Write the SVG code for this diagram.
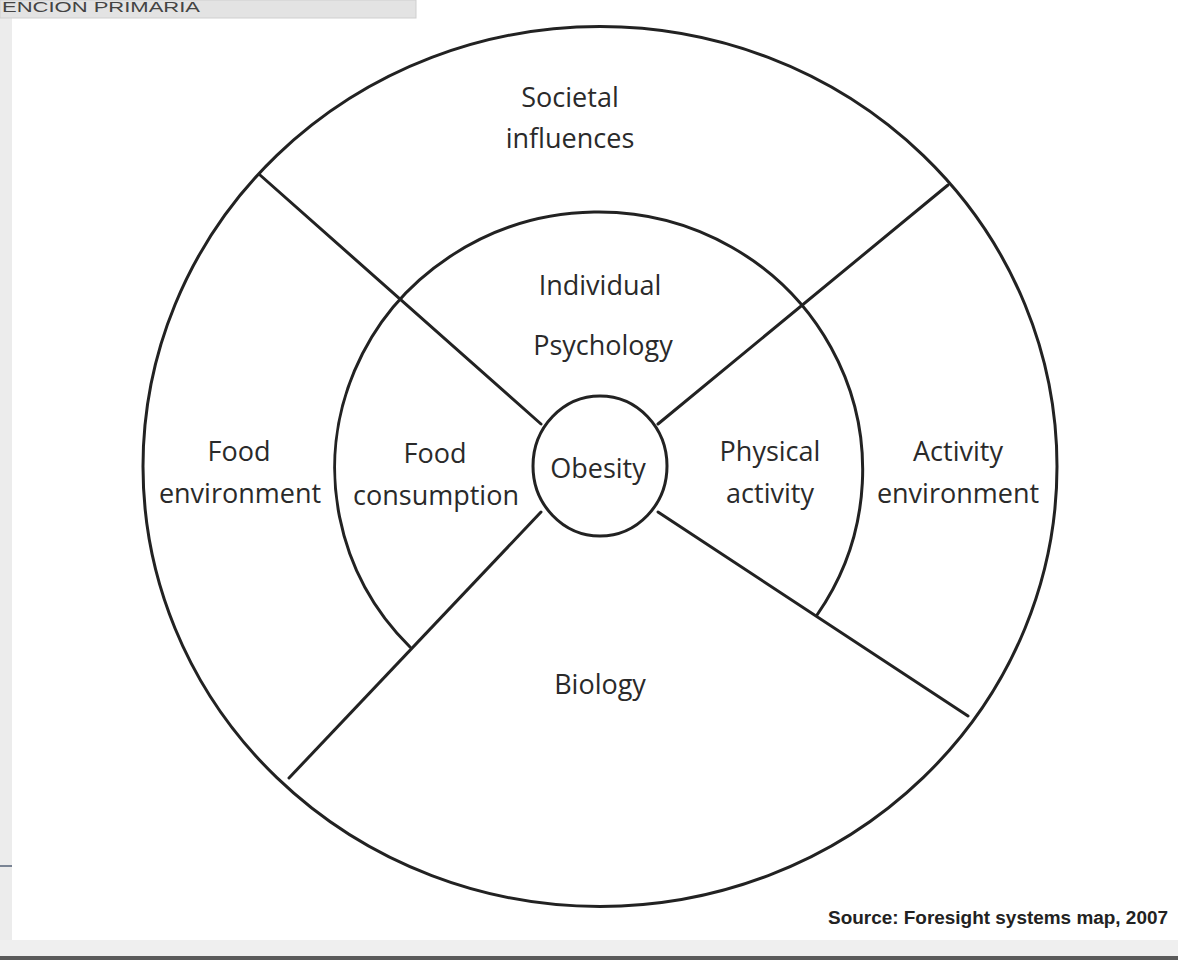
<svg xmlns="http://www.w3.org/2000/svg" width="1178" height="960" viewBox="0 0 1178 960">
<style>
.ln{fill:none;stroke:#222;stroke-width:3;stroke-linecap:round}
.lb{font-family:"Open Sans","Liberation Sans",sans-serif;font-size:27px;fill:#2a2a2a;text-anchor:middle}
</style>
<rect width="1178" height="960" fill="#fff"/>
<g id="frame">
<rect x="0" y="17" width="12" height="925" fill="#ececec"/>
<rect x="0" y="940" width="1178" height="17" fill="#efefef"/>
<rect x="0" y="956" width="1178" height="4" fill="#5a5a5a"/>
<rect x="0" y="865" width="12" height="2" fill="#7a8494"/>
<rect x="0" y="0" width="416" height="18" fill="#e3e3e3" stroke="#cfcfcf" stroke-width="1"/>
<text x="2" y="12" font-family="Liberation Sans, sans-serif" font-size="15" fill="#444" textLength="198" lengthAdjust="spacingAndGlyphs">ENCION PRIMARIA</text>
</g>
<g id="connectors">
<ellipse class="ln" cx="600" cy="466.5" rx="457" ry="440"/>
<path class="ln" d="M410,647 A264,256 0 0 1 594,212 A264,258 0 0 1 817,615"/>
<line class="ln" x1="260" y1="175" x2="541" y2="424"/>
<line class="ln" x1="948" y1="185" x2="658" y2="424"/>
<line class="ln" x1="289" y1="778" x2="541" y2="512"/>
<line class="ln" x1="968" y1="716" x2="658" y2="512"/>
</g>
<g id="obesity">
<ellipse class="ln" cx="600" cy="466" rx="67" ry="70"/>
<text class="lb" x="598" y="478">Obesity</text>
</g>
<g id="societal"><text class="lb" x="570" y="107">Societal</text><text class="lb" x="570" y="148">influences</text></g>
<g id="individual"><text class="lb" x="600" y="295">Individual</text><text class="lb" x="603" y="355">Psychology</text></g>
<g id="food-env"><text class="lb" x="239" y="461">Food</text><text class="lb" x="240" y="503">environment</text></g>
<g id="food-cons"><text class="lb" x="435" y="463">Food</text><text class="lb" x="436" y="505">consumption</text></g>
<g id="physical"><text class="lb" x="770" y="461">Physical</text><text class="lb" x="770" y="503">activity</text></g>
<g id="activity-env"><text class="lb" x="958" y="461">Activity</text><text class="lb" x="958" y="503">environment</text></g>
<g id="biology"><text class="lb" x="600" y="694">Biology</text></g>
<text x="1168" y="924" text-anchor="end" font-family="Liberation Sans Narrow, Liberation Sans, sans-serif" font-weight="bold" font-size="18" fill="#222" textLength="340" lengthAdjust="spacingAndGlyphs">Source: Foresight systems map, 2007</text>
</svg>
